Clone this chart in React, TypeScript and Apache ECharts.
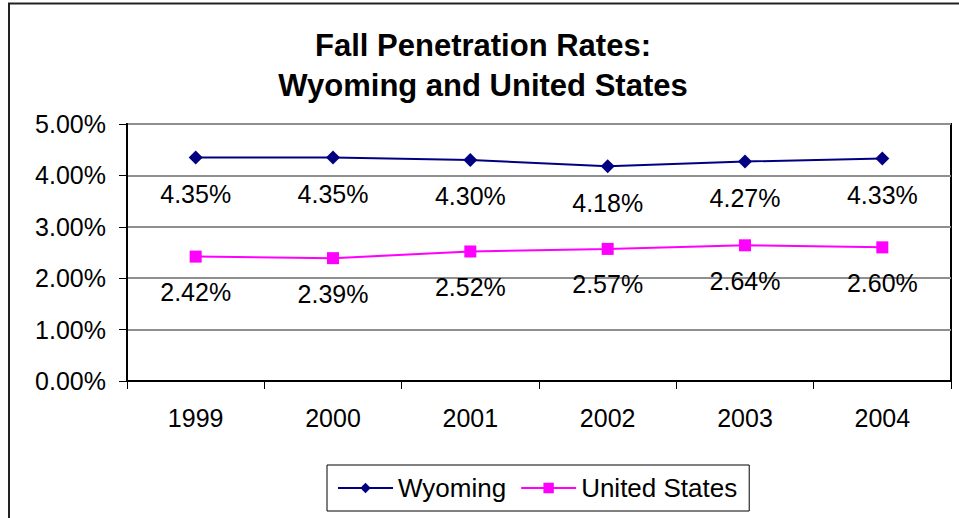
import React, { useEffect, useRef } from "react";
import * as echarts from "echarts";

const categories = ["1999", "2000", "2001", "2002", "2003", "2004"];
const wyoming = [4.35, 4.35, 4.3, 4.18, 4.27, 4.33];
const unitedStates = [2.42, 2.39, 2.52, 2.57, 2.64, 2.6];
const seriesNames = ["Wyoming", "United States"];
const titleText = "Fall Penetration Rates:\nWyoming and United States";

const FONT = "'Liberation Sans', Arial, sans-serif";

export default function App() {
  const ref = useRef<HTMLDivElement>(null);
  useEffect(() => {
    if (!ref.current) return;
    const chart = echarts.init(ref.current, null, { renderer: "svg" });
    const pct = (v: number) => v.toFixed(2) + "%";
    const labelCfg = {
      show: true,
      position: "bottom" as const,
      distance: 17,
      color: "#000",
      fontSize: 25,
      fontFamily: FONT,
      formatter: (p: any) => pct(p.value),
    };
    chart.setOption({
      animation: false,
      backgroundColor: "#fff",
      textStyle: { fontFamily: FONT },
      title: {
        text: titleText,
        left: 483,
        textAlign: "center",
        top: 25,
        padding: 0,
        textStyle: {
          fontFamily: FONT,
          fontWeight: "bold",
          fontSize: 31,
          lineHeight: 40,
          color: "#000",
        },
      },
      graphic: [
        {
          type: "rect",
          shape: { x: 9, y: 3.5, width: 1200, height: 1200 },
          style: { fill: "none", stroke: "#222", lineWidth: 2 },
          silent: true,
          z: -1,
        },
      ],
      legend: {
        data: seriesNames,
        left: 327,
        top: 465,
        padding: [10, 12, 10, 10],
        itemWidth: 55,
        itemHeight: 13,
        itemGap: 14,
        borderColor: "#000",
        borderWidth: 1,
        textStyle: { fontSize: 26, fontFamily: FONT, color: "#000" },
      },
      grid: {
        left: 127,
        top: 124,
        right: 8,
        bottom: 137,
        show: true,
        borderColor: "#000",
        borderWidth: 2,
        backgroundColor: "#fff",
        containLabel: false,
        outerBoundsMode: "none",
      },
      xAxis: {
        type: "category",
        data: categories,
        boundaryGap: true,
        axisLine: { lineStyle: { color: "#000", width: 2 } },
        axisTick: { show: true, length: 8, lineStyle: { color: "#000", width: 1 } },
        axisLabel: { fontSize: 25, fontFamily: FONT, color: "#000", margin: 24 },
      },
      yAxis: {
        type: "value",
        min: 0,
        max: 5,
        interval: 1,
        axisLine: { show: true, lineStyle: { color: "#000", width: 2 } },
        axisTick: { show: true, length: 8, lineStyle: { color: "#000", width: 1 } },
        splitLine: { show: true, lineStyle: { color: "#8f8f8f", width: 2 } },
        axisLabel: {
          fontSize: 25,
          fontFamily: FONT,
          color: "#000",
          margin: 21,
          formatter: (v: number) => pct(v),
        },
      },
      series: [
        {
          name: seriesNames[0],
          type: "line",
          data: wyoming,
          symbol: "diamond",
          symbolSize: 14,
          color: "#000080",
          lineStyle: { color: "#000080", width: 2 },
          itemStyle: { color: "#000080" },
          label: labelCfg,
        },
        {
          name: seriesNames[1],
          type: "line",
          data: unitedStates,
          symbol: "rect",
          symbolSize: 12,
          color: "#ff00ff",
          lineStyle: { color: "#ff00ff", width: 2 },
          itemStyle: { color: "#ff00ff" },
          label: labelCfg,
        },
      ],
    });
    return () => chart.dispose();
  }, []);
  return (
    <div
      ref={ref}
      style={{ position: "fixed", left: 0, top: 0, width: 959, height: 518 }}
    />
  );
}
